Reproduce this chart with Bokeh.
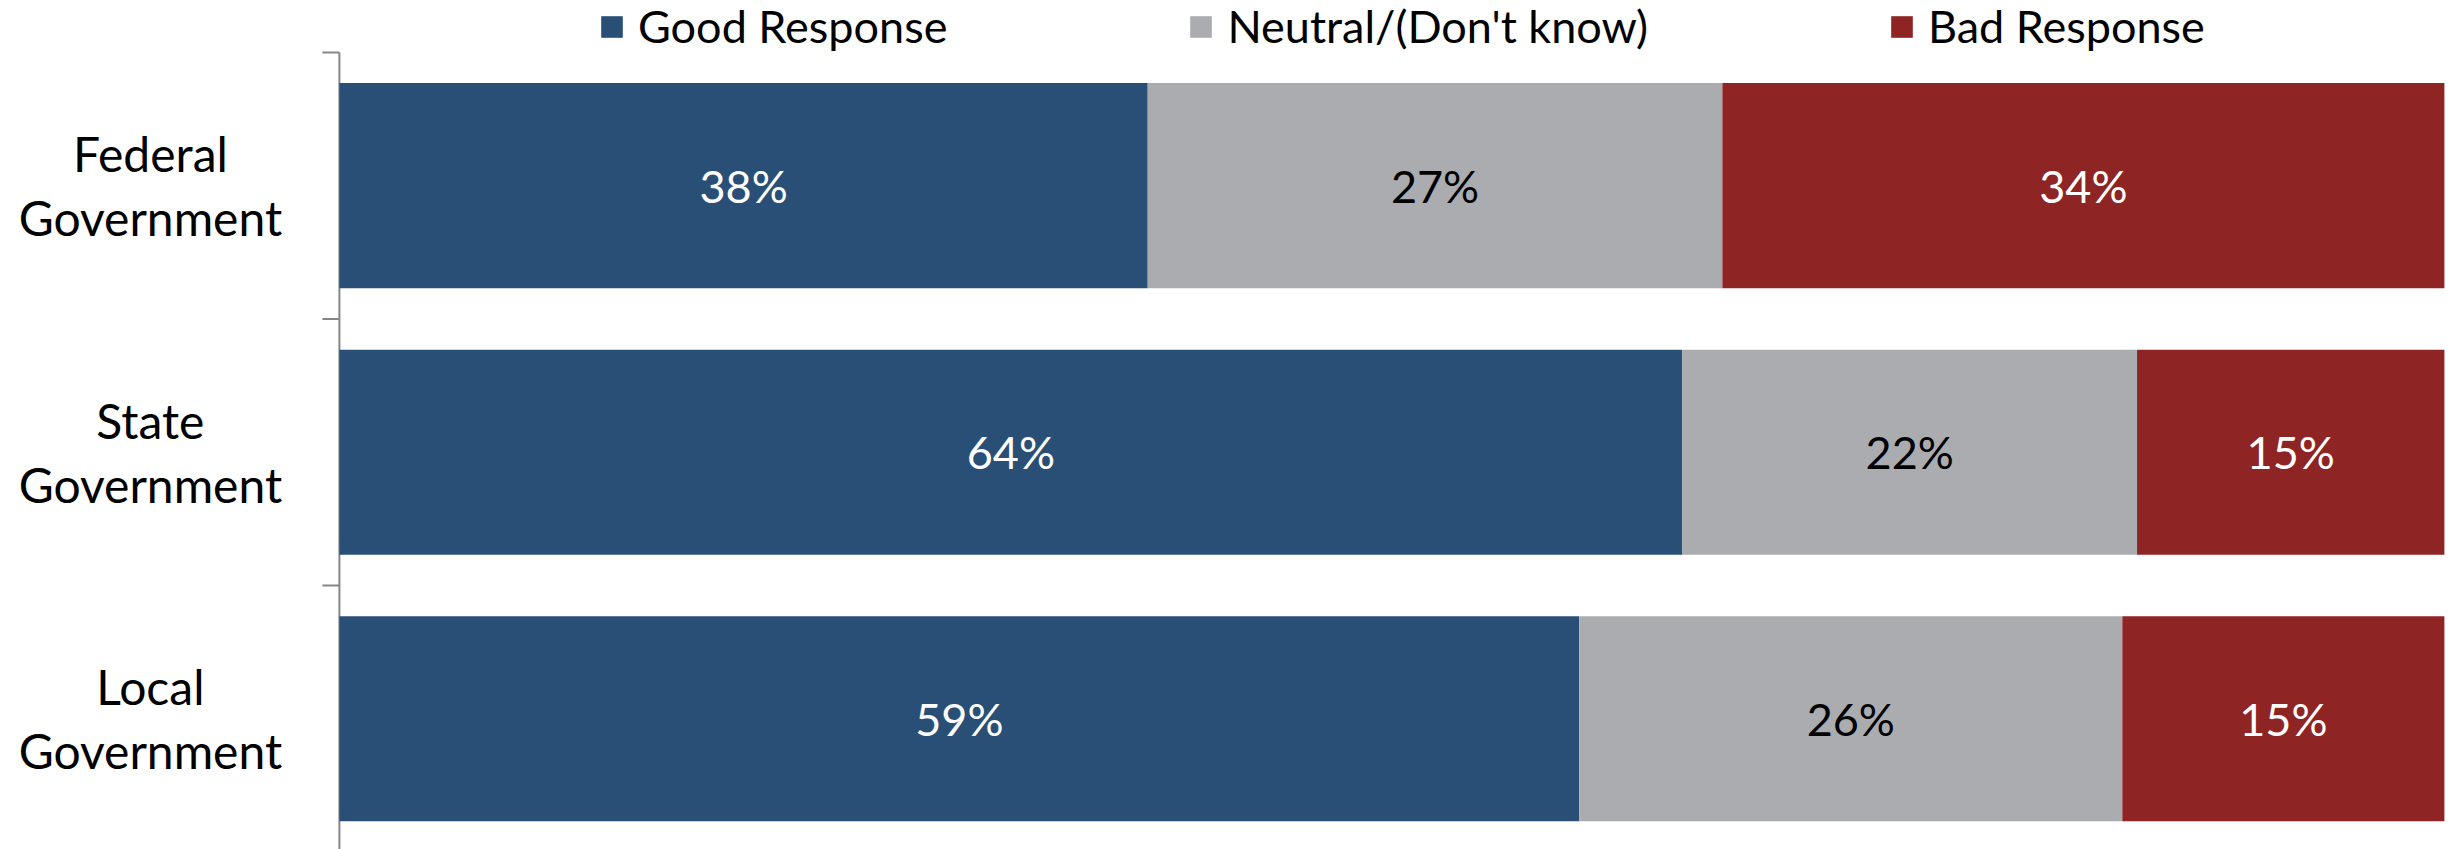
from bokeh.plotting import figure
from bokeh.models import Range1d, Legend, LegendItem, ColumnDataSource
from bokeh.embed import file_html
from bokeh.resources import INLINE
from bokeh.core.properties import value

categories = ["Federal\nGovernment", "State\nGovernment", "Local\nGovernment"]
series = ["Good Response", "Neutral/(Don't know)", "Bad Response"]
good = [38.4, 63.8, 58.9]
neutral = [27.3, 21.6, 25.8]
bad = [34.3, 14.6, 15.3]

colors = ["#2A4F77", "#ABACB0", "#8E2423"]
label_colors = ["white", "black", "white"]
FONT = "Lato"
FSIZE = "45px"
CAT_FSIZE = "48px"
AXIS_COLOR = "#868686"

n = len(categories)
ypos = [n - 0.5 - i for i in range(n)]  # first category at top

W, H = 2450, 849
x_start, x_end = -16.10, 100.29
y_start, y_end = 0.0094, 3.195
px_x = W / (x_end - x_start)

p = figure(width=W, height=H, output_backend="svg", toolbar_location=None,
           x_range=Range1d(x_start, x_end), y_range=Range1d(y_start, y_end),
           x_axis_type=None, y_axis_type=None,
           min_border=0, outline_line_color=None)
p.xgrid.visible = False
p.ygrid.visible = False

# category axis line and boundary ticks
tick_len = 17 / px_x
p.segment(x0=[0], y0=[y_start], x1=[0], y1=[n], line_color=AXIS_COLOR, line_width=2)
bounds = list(range(1, n + 1))
p.segment(x0=[-tick_len] * len(bounds), y0=bounds, x1=[0] * len(bounds), y1=bounds,
          line_color=AXIS_COLOR, line_width=2)

renderers = []
left = [0.0] * n
for s_name, vals, col, lcol in zip(series, [good, neutral, bad], colors, label_colors):
    right = [l + v for l, v in zip(left, vals)]
    mid = [(l + r) / 2 for l, r in zip(left, right)]
    src = ColumnDataSource(dict(y=ypos, left=left, right=right, mid=mid,
                                label=[f"{v:.0f}%" for v in vals]))
    r = p.hbar(y="y", left="left", right="right", height=0.77, source=src,
               fill_color=col, line_color=None)
    p.text(x="mid", y="y", text="label", source=src, text_align="center",
           text_baseline="middle", text_color=lcol, text_font=value(FONT),
           text_font_size=FSIZE)
    renderers.append(r)
    left = right

# category labels
label_x = -8.98
p.text(x=[label_x] * n, y=ypos, text=categories, text_align="center",
       text_baseline="middle", text_color="black", text_font=value(FONT),
       text_font_size=CAT_FSIZE, text_line_height=1.12)

legend = Legend(items=[LegendItem(label=s, renderers=[r]) for s, r in zip(series, renderers)],
                orientation="horizontal", location=(598, 796), spacing=240,
                label_standoff=13, glyph_width=27, glyph_height=27,
                label_text_font=FONT, label_text_font_size=FSIZE,
                label_text_color="black",
                border_line_color=None, background_fill_alpha=0,
                padding=0, margin=0)
p.add_layout(legend)

open("out.html", "w").write(file_html(p, INLINE))
